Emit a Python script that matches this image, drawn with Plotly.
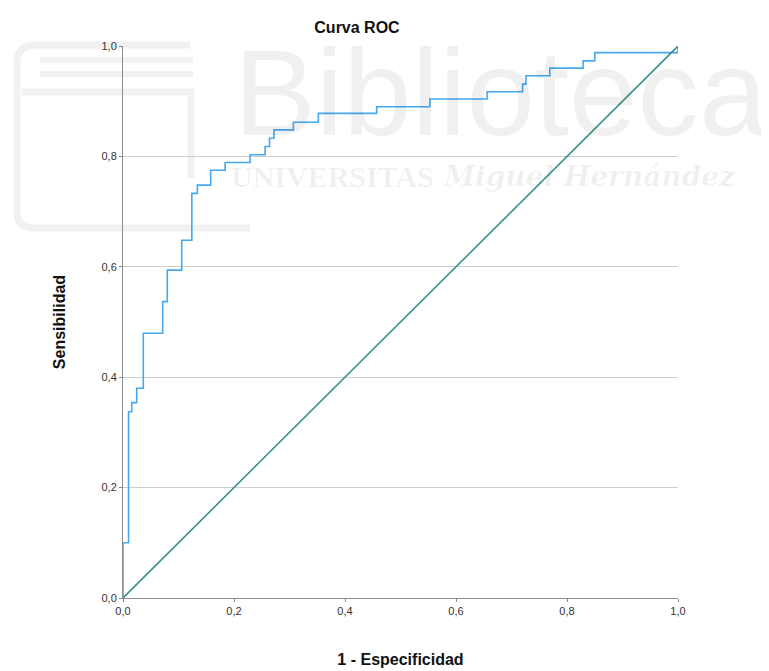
import plotly.graph_objects as go

# ROC curve vertices (1 - Especificidad, Sensibilidad)
fpr = [0.0, 0.0, 0.010, 0.0157, 0.0247, 0.0366, 0.0715, 0.0798, 0.1058, 0.124,
       0.134, 0.158, 0.184, 0.229, 0.256, 0.264, 0.272, 0.307, 0.352, 0.457,
       0.553, 0.656, 0.720, 0.726, 0.769, 0.829, 0.850, 1.0]
tpr = [0.0, 0.100, 0.3375, 0.354, 0.380, 0.4795, 0.537, 0.594, 0.648, 0.733,
       0.748, 0.775, 0.789, 0.803, 0.818, 0.833, 0.848, 0.862, 0.878, 0.890,
       0.904, 0.917, 0.931, 0.946, 0.960, 0.973, 0.988, 1.0]

ref_x = [0.0, 1.0]
ref_y = [0.0, 1.0]

tick_vals = [0.0, 0.2, 0.4, 0.6, 0.8, 1.0]
tick_text = ["0,0", "0,2", "0,4", "0,6", "0,8", "1,0"]

title_text = "Curva ROC"
x_title = "1 - Especificidad"
y_title = "Sensibilidad"

# page has an 8px body margin; figure sized so it fits the 769x671 window
OFF = 8
W, H = 769 - OFF, 671 - OFF
L, T, R, B = 123 - OFF, 46 - OFF, W - (678 - OFF), H - (598 - OFF)

fig = go.Figure()

fig.add_trace(go.Scatter(
    x=fpr, y=tpr, mode="lines", line=dict(color="#45a8f0", width=1.6, shape="hv"),
    showlegend=False, cliponaxis=False, hoverinfo="x+y"))

fig.add_trace(go.Scatter(
    x=ref_x, y=ref_y, mode="lines", line=dict(color="#3a908d", width=1.6),
    showlegend=False, cliponaxis=False, hoverinfo="x+y"))

font_main = "Liberation Sans, Arial, sans-serif"

fig.update_layout(
    width=W, height=H,
    margin=dict(l=L, r=R, t=T, b=B, autoexpand=False),
    paper_bgcolor="white", plot_bgcolor="white",
    font=dict(family=font_main, color="#222222", size=11),
    title=dict(text="<b>" + title_text + "</b>", x=(357 - OFF) / W, xanchor="center",
               y=1 - (27 - OFF) / H, yanchor="middle",
               font=dict(size=16, family=font_main, color="#111111")),
    xaxis=dict(range=[0, 1], tickvals=tick_vals, ticktext=tick_text, automargin=False,
               showgrid=False, zeroline=False, showline=True, linecolor="#8c8c8c",
               linewidth=1, ticks="outside", ticklen=3, tickcolor="#8c8c8c",
               tickfont=dict(size=11, color="#333333"),
               title=dict(text="<b>" + x_title + "</b>", standoff=37,
                          font=dict(size=16, color="#111111"))),
    yaxis=dict(range=[0, 1], tickvals=tick_vals, ticktext=tick_text, automargin=False,
               showgrid=True, gridcolor="#cdcdcd", gridwidth=1, zeroline=False,
               showline=True, linecolor="#8c8c8c", linewidth=1,
               ticks="outside", ticklen=3, tickcolor="#8c8c8c",
               tickfont=dict(size=11, color="#333333"),
               title=dict(text="<b>" + y_title + "</b>", standoff=31,
                          font=dict(size=16, color="#111111"))),
)


def px(xp):
    return (xp - 123) / 555


def py(yp):
    return (598 - yp) / 552


# faint library watermark (logo strokes, below everything)
wm = "#f1f1f1"
logo_paths = [
    (f"M {px(190)},{py(45)} L {px(35)},{py(45)} Q {px(17)},{py(45)} {px(17)},{py(63)} "
     f"L {px(17)},{py(212)} Q {px(17)},{py(228)} {px(35)},{py(228)} L {px(250)},{py(228)}"),
    f"M {px(22)},{py(92)} L {px(191)},{py(92)} L {px(191)},{py(178)}",
]
for p in logo_paths:
    fig.add_shape(type="path", path=p, xref="paper", yref="paper", layer="below",
                  line=dict(color=wm, width=7))
for yb in (60, 74):
    fig.add_shape(type="line", xref="paper", yref="paper", layer="below",
                  x0=px(40), x1=px(193), y0=py(yb), y1=py(yb),
                  line=dict(color=wm, width=6))

wm_text = "rgba(0,0,0,0.06)"
fig.add_annotation(text="Biblioteca", xref="paper", yref="paper",
                   x=px(232), y=py(92), xanchor="left", yanchor="middle",
                   showarrow=False, font=dict(size=123, family=font_main, color=wm_text))
fig.add_annotation(text="<b>UNIVERSITAS</b>", xref="paper", yref="paper",
                   x=px(229), y=py(176), xanchor="left", yanchor="middle",
                   showarrow=False,
                   font=dict(size=30, family="Liberation Serif, serif", color=wm_text))
fig.add_annotation(text="<b><i>Miguel Hernández</i></b>", xref="paper", yref="paper",
                   x=px(441), y=py(176), xanchor="left", yanchor="middle",
                   showarrow=False,
                   font=dict(size=28, family="DejaVu Serif, serif", color=wm_text))

fig.write_html("out.html")
